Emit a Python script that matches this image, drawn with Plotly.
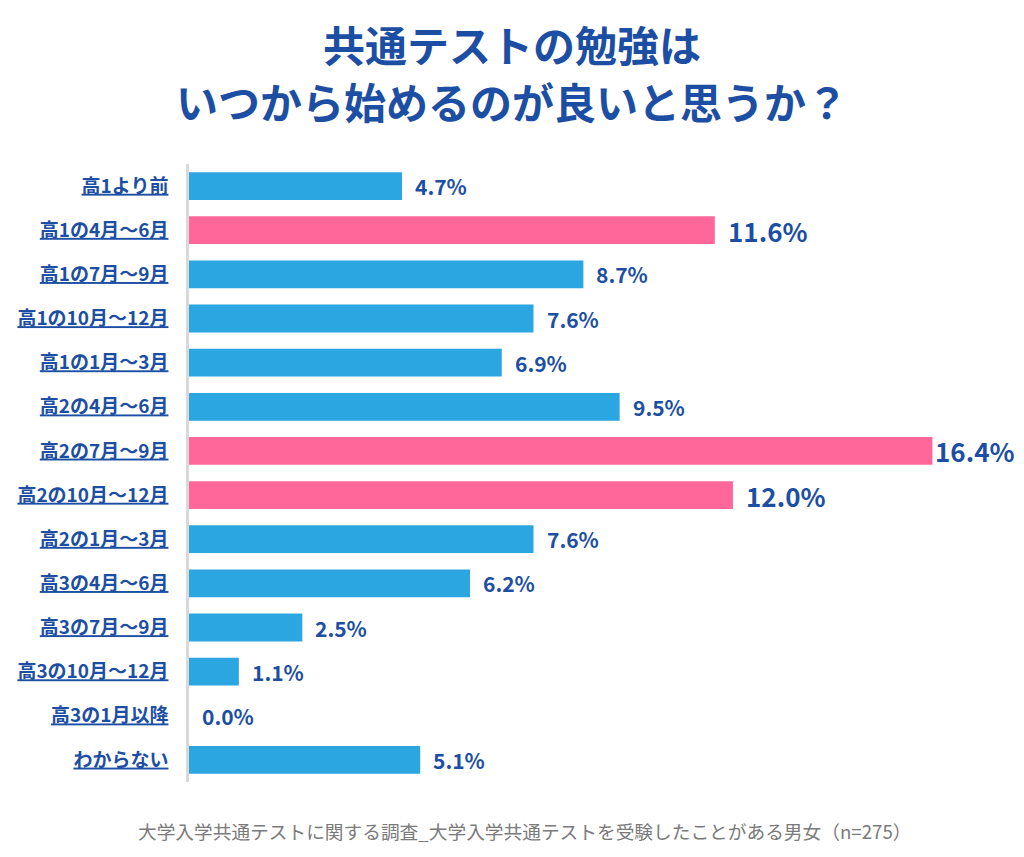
import plotly.graph_objects as go

# データ
categories = [
    '高1より前', '高1の4月～6月', '高1の7月～9月', '高1の10月～12月', '高1の1月～3月',
    '高2の4月～6月', '高2の7月～9月', '高2の10月～12月', '高2の1月～3月',
    '高3の4月～6月', '高3の7月～9月', '高3の10月～12月', '高3の1月以降', 'わからない'
]
values = [4.7, 11.6, 8.7, 7.6, 6.9, 9.5, 16.4, 12.0, 7.6, 6.2, 2.5, 1.1, 0.0, 5.1]
highlight = ['高1の4月～6月', '高2の7月～9月', '高2の10月～12月']

BLUE = '#2ba6e1'
PINK = '#ff6699'
NAVY = '#1c4fa3'
FONT = 'Noto Sans CJK JP'

colors = [PINK if c in highlight else BLUE for c in categories]

fig = go.Figure(go.Bar(
    x=values,
    y=categories,
    orientation='h',
    marker_color=colors,
    marker_line_width=0,
    width=0.63,
    hoverinfo='skip',
))

# 値ラベル
for c, v in zip(categories, values):
    big = c in highlight
    shift = 11
    if v == max(values):
        shift = 1
    fig.add_annotation(
        x=v, y=c, text=f'<b>{v:.1f}%</b>',
        xanchor='left', yanchor='middle', showarrow=False,
        xshift=shift,
        font=dict(family=FONT, size=26 if big else 21, color=NAVY),
    )

# タイトル (2行)
title_lines = ['共通テストの勉強は', 'いつから始めるのが良いと思うか？']
for line, yp in zip(title_lines, [1.1945, 1.1020]):
    fig.add_annotation(
        x=0.3915, y=yp, xref='paper', yref='paper',
        xanchor='center', yanchor='middle',
        text=f'<b>{line}</b>', showarrow=False,
        font=dict(family=FONT, size=42, color=NAVY),
    )

# ページ本体の余白 (8px) を差し引いた余白
fig.update_layout(
    width=1024, height=857,
    margin=dict(l=181, r=18, t=156, b=83),
    paper_bgcolor='white', plot_bgcolor='white',
    showlegend=False,
    xaxis=dict(range=[0, 18.2], visible=False, fixedrange=True),
    yaxis=dict(
        autorange='reversed', automargin=False,
        tickmode='array', tickvals=categories,
        ticktext=[f'<b><u>{c}</u></b>' for c in categories],
        tickfont=dict(family=FONT, size=19, color=NAVY),
        showline=True, linecolor='#d9d9d9', linewidth=2.5,
        ticks='outside', ticklen=14, tickcolor='rgba(0,0,0,0)',
        showgrid=False,
    ),
)

fig.add_annotation(
    x=(524 - 189) / 825, y=(782 - 830) / 618, xref='paper', yref='paper',
    xanchor='center', yanchor='middle',
    text='大学入学共通テストに関する調査_大学入学共通テストを受験したことがある男女（n=275）',
    showarrow=False,
    font=dict(family=FONT, size=18.7, color='#7a7a7a'),
)

fig.write_html('out.html')
